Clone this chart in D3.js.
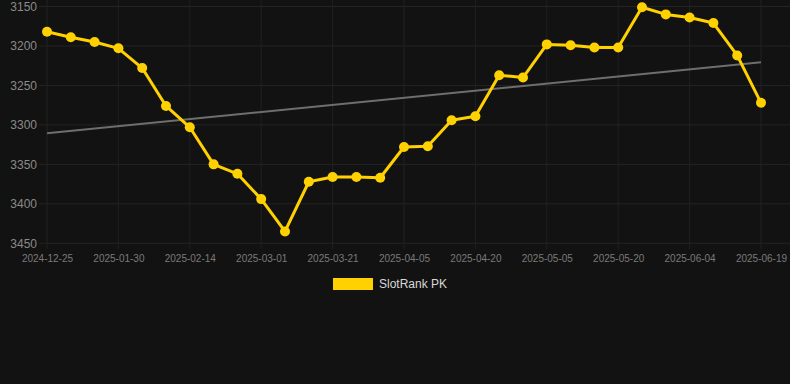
<!DOCTYPE html>
<html>
<head>
<meta charset="utf-8">
<script src="https://cdn.jsdelivr.net/npm/d3@7"></script>
<style>
  html, body { margin: 0; padding: 0; background: #121212; }
  svg { display: block; font-family: "Liberation Sans", Arial, sans-serif; }
</style>
</head>
<body>
<svg id="chart" width="790" height="384"></svg>
<script>
// rank per date (lower is better, axis reversed)
const dates = [
    "2024-12-25", "2025-01-05", "2025-01-20", "2025-01-30", "2025-02-04", "2025-02-09",
    "2025-02-14", "2025-02-19", "2025-02-24", "2025-03-01", "2025-03-08", "2025-03-15",
    "2025-03-21", "2025-03-26", "2025-03-31", "2025-04-05", "2025-04-10", "2025-04-15",
    "2025-04-20", "2025-04-25", "2025-04-30", "2025-05-05", "2025-05-10", "2025-05-15",
    "2025-05-20", "2025-05-25", "2025-05-30", "2025-06-04", "2025-06-09", "2025-06-14",
    "2025-06-19"
]
const ranks = [
    3182, 3189, 3195, 3203, 3228, 3276, 3303, 3350, 3362, 3394, 3435, 3372,
    3366, 3366, 3367, 3328, 3327, 3294, 3289, 3237, 3240, 3198, 3199, 3202,
    3202, 3151, 3160, 3164, 3171, 3212, 3272
]
const xTickLabels = [
    "2024-12-25", "2025-01-30", "2025-02-14", "2025-03-01", "2025-03-21", "2025-04-05",
    "2025-04-20", "2025-05-05", "2025-05-20", "2025-06-04", "2025-06-19"
]
const yTicks = [3150, 3200, 3250, 3300, 3350, 3400, 3450]
const seriesName = "SlotRank PK"

const svg = d3.select("#chart")
const yellow = "#ffd100"

const x = d3.scalePoint()
    .domain(dates)
    .range([47, 761])
const y = d3.scaleLinear()
    .domain([3150, 3450])
    .range([6.5, 243.3])

// grid
svg.append("g")
    .selectAll("line")
    .data(yTicks)
    .enter()
    .append("line")
    .attr("x1", 39)
    .attr("x2", 790)
    .attr("y1", (d) => y(d))
    .attr("y2", (d) => y(d))
    .style("stroke", "#242424")
    .style("stroke-width", "1px")
svg.append("g")
    .selectAll("line")
    .data(xTickLabels)
    .enter()
    .append("line")
    .attr("x1", (d) => x(d))
    .attr("x2", (d) => x(d))
    .attr("y1", 0)
    .attr("y2", 249)
    .style("stroke", "#202020")
    .style("stroke-width", "1px")

// axes labels
const yAxis = svg.append("g")
    .attr("transform", "translate(37,0)")
    .call(d3.axisLeft(y).tickValues(yTicks).tickSize(0).tickPadding(0).tickFormat(d3.format("d")))
yAxis.select(".domain").remove()
yAxis.selectAll("text")
    .style("font-size", "12px")
    .style("fill", "#8a8a8a")
    .style("font-family", "Liberation Sans, Arial, sans-serif")

const xAxis = svg.append("g")
    .attr("transform", "translate(0,249)")
    .call(d3.axisBottom(x).tickValues(xTickLabels).tickSize(0).tickPadding(6))
xAxis.select(".domain").remove()
xAxis.selectAll("text")
    .style("font-size", "10px")
    .style("fill", "#7a7a7a")
    .style("font-family", "Liberation Sans, Arial, sans-serif")

// trend line (least squares over the ranks)
const n = ranks.length
const idx = d3.range(n)
const mx = d3.mean(idx)
const my = d3.mean(ranks)
const slope = d3.sum(idx, (i) => (i - mx) * (ranks[i] - my)) / d3.sum(idx, (i) => (i - mx) * (i - mx))
const icpt = my - slope * mx
svg.append("line")
    .attr("x1", x(dates[0]))
    .attr("y1", y(icpt))
    .attr("x2", x(dates[n - 1]))
    .attr("y2", y(icpt + slope * (n - 1)))
    .style("stroke", "#6e6e6e")
    .style("stroke-width", "2px")

// series
const line = d3.line()
    .x((d, i) => x(dates[i]))
    .y((d) => y(d))
svg.append("path")
    .datum(ranks)
    .attr("d", line)
    .attr("fill", "none")
    .style("stroke", yellow)
    .style("stroke-width", "3px")
    .style("stroke-linejoin", "round")
svg.append("g")
    .selectAll("circle")
    .data(ranks)
    .enter()
    .append("circle")
    .attr("cx", (d, i) => x(dates[i]))
    .attr("cy", (d) => y(d))
    .attr("r", 5)
    .attr("fill", yellow)

// legend
svg.append("rect")
    .attr("x", 333)
    .attr("y", 278)
    .attr("width", 40)
    .attr("height", 12)
    .attr("fill", yellow)
svg.append("text")
    .attr("x", 379)
    .attr("y", 288)
    .text(seriesName)
    .style("font-size", "12px")
    .style("fill", "#d8d8d8")
</script>
</body>
</html>
